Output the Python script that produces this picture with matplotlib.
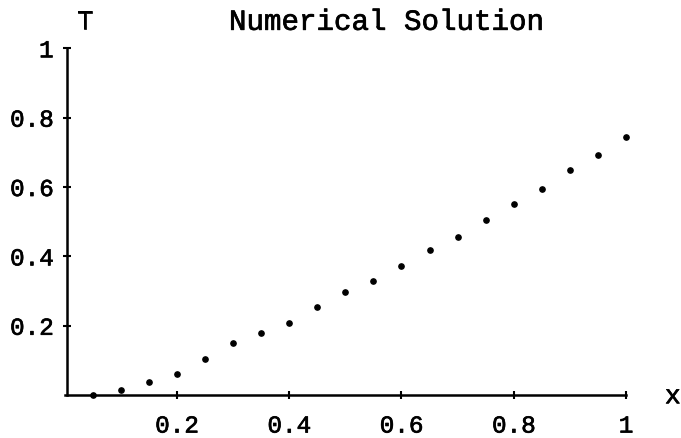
import matplotlib
matplotlib.use("Agg")
import matplotlib.pyplot as plt
import matplotlib.patheffects as pe

x_vals = [0.05, 0.10, 0.15, 0.20, 0.25, 0.30, 0.35, 0.40, 0.45, 0.50,
          0.55, 0.60, 0.65, 0.70, 0.75, 0.80, 0.85, 0.90, 0.95, 1.00]
t_vals = [0.0, 0.016, 0.037, 0.061, 0.104, 0.149, 0.180, 0.209, 0.253, 0.298,
          0.329, 0.373, 0.417, 0.455, 0.505, 0.552, 0.595, 0.649, 0.692, 0.743]
x_ticks = [0.2, 0.4, 0.6, 0.8, 1.0]
x_tick_labels = ["0.2", "0.4", "0.6", "0.8", "1"]
y_ticks = [0.2, 0.4, 0.6, 0.8, 1.0]
y_tick_labels = ["0.2", "0.4", "0.6", "0.8", "1"]

FONT = "Liberation Mono"
FS = 17.5
thick = [pe.withStroke(linewidth=0.5, foreground="black")]

fig = plt.figure(figsize=(6.81, 4.39), dpi=100)
ax = fig.add_axes([0.0949, 0.0977, 0.8244, 0.790])
ax.set_xlim(0, 1)
ax.set_ylim(0, 1)

ax.plot(x_vals, t_vals, linestyle="none", marker="o", markersize=3.8,
        color="black", clip_on=False)

for s in ["top", "right"]:
    ax.spines[s].set_visible(False)
ax.spines["left"].set_position(("data", 0.005))
ax.spines["left"].set_linewidth(1.8)
ax.spines["bottom"].set_linewidth(1.8)

ax.set_xticks(x_ticks)
ax.set_xticklabels(x_tick_labels, fontfamily=FONT, fontsize=FS)
ax.set_yticks(y_ticks)
ax.set_yticklabels(y_tick_labels, fontfamily=FONT, fontsize=FS)
ax.tick_params(direction="inout", length=6, width=1.5)
ax.tick_params(axis="y", pad=7)
ax.tick_params(axis="x", pad=11)
for lab in ax.get_xticklabels() + ax.get_yticklabels():
    lab.set_path_effects(thick)

fig.text(0.5675, 0.948, "Numerical Solution", fontfamily=FONT, fontsize=21,
         ha="center", va="center", path_effects=thick)
fig.text(0.125, 0.948, "T", fontfamily=FONT, fontsize=19,
         ha="center", va="center", path_effects=thick)
fig.text(0.988, 0.095, "x", fontfamily=FONT, fontsize=19,
         ha="center", va="center", path_effects=thick)

fig.savefig("out.png", dpi=100)
